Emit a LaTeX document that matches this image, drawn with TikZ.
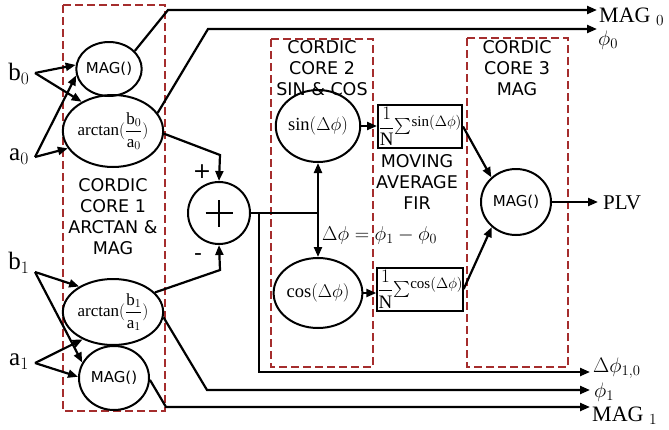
\documentclass[tikz,border=0pt]{standalone}
\usepackage{fix-cm}
\usepackage{fontspec}
\setmainfont{Liberation Serif}
\newfontfamily\vsans{DejaVu Sans}
\usetikzlibrary{shapes.geometric,arrows.meta}
\definecolor{boxred}{RGB}{165,45,45}
\newcommand{\oneoverN}{\hbox{\fontsize{19}{20}\selectfont$\displaystyle\frac{1}{\mathrm{N}}$}}
\begin{document}
\begin{tikzpicture}[x=1pt,y=-1pt,
  conn/.style={line width=2.2pt,-{Triangle[length=10pt,width=8pt]}},
  plain/.style={line width=2.2pt},
  corebox/.style={draw=boxred,line width=2.5pt,dash pattern=on 8pt off 4pt},
  ell/.style={ellipse,draw,line width=2pt,inner sep=0pt},
  sumbox/.style={rectangle,draw,line width=2pt,inner sep=0pt,minimum width=84pt,minimum height=43pt,font=\fontsize{15}{17}\selectfont},
  boxtxt/.style={font=\vsans\fontsize{17.5}{21}\selectfont,align=center,inner sep=0pt},
  elltxt/.style={font=\vsans\fontsize{15}{18}\selectfont},
  trig/.style={font=\fontsize{18.5}{20}\selectfont},
  lab/.style={font=\fontsize{25}{28}\selectfont,inner sep=0pt},
  outlab/.style={font=\fontsize{21}{24}\selectfont,inner sep=0pt},
  sgn/.style={font=\vsans\fontsize{22}{24}\selectfont,inner sep=0pt},
  atxt/.style={font=\fontsize{17}{19}\selectfont},
]
\useasboundingbox (0,0) rectangle (669,429);

% dashed CORDIC core frames
\draw[corebox] (63,5) rectangle (165,411);
\draw[corebox] (271,39) rectangle (373,367);
\draw[corebox] (467,38) rectangle (568,367);

% frame captions
\node[boxtxt] (cap1) at (113,217) {CORDIC\\CORE 1\\ARCTAN \&\\MAG};
\node[boxtxt] (cap2) at (322,68) {CORDIC\\CORE 2\\SIN \& COS};
\node[boxtxt] (cap3) at (517,68) {CORDIC\\CORE 3\\MAG};
\node[boxtxt] (cap4) at (417,182) {MOVING\\AVERAGE\\FIR};

% inputs
\node[lab] (b0) at (19,74) {$\mathrm{b}_{0}$};
\node[lab] (a0) at (19,157) {$\mathrm{a}_{0}$};
\node[lab] (b1) at (19,263) {$\mathrm{b}_{1}$};
\node[lab] (a1) at (19,362) {$\mathrm{a}_{1}$};
\coordinate (b0s) at (35,73);
\coordinate (a0s) at (35,157);
\coordinate (b1s) at (35,272);
\coordinate (a1s) at (35,363);

% core 1 ellipses
\node[ell,elltxt,minimum width=62pt,minimum height=54pt] (mag0) at (109,69) {MAG()};
\node[ell,atxt,minimum width=78pt,minimum height=72pt] (atan0) at (113,131)
  {arctan$\displaystyle(\frac{\mathrm{b}_{0}}{\mathrm{a}_{0}})$};
\node[ell,atxt,minimum width=78pt,minimum height=66pt] (atan1) at (113,312)
  {arctan$\displaystyle(\frac{\mathrm{b}_{1}}{\mathrm{a}_{1}})$};
\node[ell,elltxt,minimum width=70pt,minimum height=64pt] (mag1) at (114,378) {MAG()};

% adder
\node[circle,draw,line width=2pt,minimum size=62pt,inner sep=0pt] (plus) at (219,213) {};
\draw[line width=2pt] ([xshift=-13.5pt]plus.center) -- ([xshift=13.5pt]plus.center);
\draw[line width=2pt] ([yshift=-13.5pt]plus.center) -- ([yshift=13.5pt]plus.center);
\node[sgn] (pl) at (202,172) {+};
\node[sgn] (mi) at (198,257) {-};

% core 2
\node[ell,trig,minimum width=74pt,minimum height=72pt] (sin) at (318,126) {$\sin(\Delta\phi)$};
\node[ell,trig,minimum width=75pt,minimum height=70pt] (cos) at (318,293) {$\cos(\Delta\phi)$};
\node[font=\fontsize{20}{22}\selectfont,anchor=west,inner sep=0pt] (dphi) at (322,235) {$\Delta\phi = \phi_{1} - \phi_{0}$};

% moving averages
\node[sumbox] (sumsin) at (420,126.5) {$\vcenter{\oneoverN}\vcenter{\hbox{\scalebox{1.6}{$\sum$}}}\raisebox{4pt}{$\sin(\Delta\phi)$}$};
\node[sumbox] (sumcos) at (420,289) {$\vcenter{\oneoverN}\vcenter{\hbox{\scalebox{1.6}{$\sum$}}}\raisebox{4pt}{$\cos(\Delta\phi)$}$};

% core 3
\node[ell,elltxt,minimum width=70pt,minimum height=66pt] (plv) at (516,202) {MAG()};

% output labels
\node[outlab,anchor=base west,font=\fontsize{22}{24}\selectfont] (omag0) at (599,22) {MAG\ $_{0}$};
\node[outlab,anchor=west] (ophi0) at (598,40) {$\phi_{0}$};
\node[outlab,anchor=west] (oplv) at (603,203) {PLV};
\node[outlab,anchor=base west] (odphi) at (593,372) {$\Delta\phi_{1,0}$};
\node[outlab,anchor=west] (ophi1) at (594,392) {$\phi_{1}$};
\node[outlab,anchor=base west,font=\fontsize{22}{24}\selectfont] (omag1) at (592,421) {MAG\ $_{1}$};

% connector coordinates
\coordinate (m0k) at (168,10);   \coordinate (m0e) at (597,10);
\coordinate (p0k) at (208,29);   \coordinate (p0e) at (597,29);
\coordinate (a0k) at (220,155);
\coordinate (a1k) at (220,270);
\coordinate (jr) at (318,213);
\coordinate (jl) at (259,213);
\coordinate (dk) at (259,372);   \coordinate (de) at (590,372);
\coordinate (p1k) at (207,390);  \coordinate (p1e) at (590,390);
\coordinate (m1k) at (166,407);  \coordinate (m1e) at (590,407);
\coordinate (plve) at (598,202);

% input connectors
\draw[conn] (b0s) -- (mag0.173);
\draw[conn] (b0s) -- (atan0.137);
\draw[conn] (a0s) -- (mag0.191);
\draw[conn] (a0s) -- (atan0.201);
\draw[conn] (b1s) -- (atan1.143);
\draw[conn] (b1s) -- (mag1.154);
\draw[conn] (a1s) -- (atan1.222);
\draw[conn] (a1s) -- (mag1.178);

% outputs of core 1
\draw[conn] (mag0.35) -- (m0k) -- (m0e);
\draw[conn] (atan0.22) -- (p0k) -- (p0e);
\draw[conn] (atan0.-3) -- (a0k) -- (plus.north);
\draw[conn] (atan1.25) -- (a1k) -- (plus.south);
\draw[conn] (atan1.-6) -- (p1k) -- (p1e);
\draw[conn] (mag1.-3) -- (m1k) -- (m1e);

% phase difference
\draw[plain] (plus.east) -- (jr);
\draw[conn] (jr) -- (sin.south);
\draw[conn] (jr) -- (cos.north);
\draw[conn] (jl) -- (dk) -- (de);

% core 2 to averages to core 3
\draw[conn] (sin.east) -- (sin.east -| sumsin.west);
\draw[conn] (cos.east) -- (cos.east -| sumcos.west);
\draw[conn] (sumsin.east) -- (plv.135);
\draw[conn] (sumcos.east) -- (plv.226);
\draw[conn] (plv.east) -- (plve);
\end{tikzpicture}
\end{document}
